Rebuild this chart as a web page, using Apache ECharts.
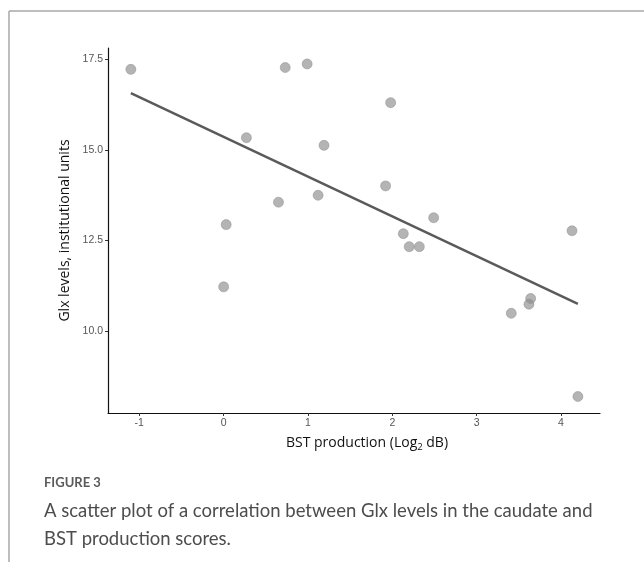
<!DOCTYPE html>
<html>
<head>
<meta charset="utf-8">
<script src="https://cdn.jsdelivr.net/npm/echarts@6/dist/echarts.min.js"></script>
<style>
  html, body { margin: 0; padding: 0; background: #fff; }
  #chart { width: 644px; height: 562px; }
</style>
</head>
<body>
<div id="chart"></div>
<script>
// BST production (log2 dB) against Glx levels
var bstScores = [-1.10, 0.73, 0.99, 0.27, 1.19, 0.65, 1.12, 0.03, 1.98, 1.92,
                 2.49, 2.13, 2.20, 2.32, 4.13, 0.00, 3.64, 3.62, 3.41, 4.20];
var glxLevels = [17.23, 17.28, 17.38, 15.34, 15.13, 13.56, 13.75, 12.94, 16.31, 14.01,
                 13.13, 12.69, 12.33, 12.33, 12.77, 11.22, 10.90, 10.74, 10.49, 8.19];
// fitted line end points
var fitX = [-1.10, 4.20];
var fitY = [16.57, 10.75];
var xTicks = [-1, 0, 1, 2, 3, 4];
var yTicks = [10, 12.5, 15, 17.5];

var points = bstScores.map(function (x, i) { return [x, glxLevels[i]]; });
var fitLine = fitX.map(function (x, i) { return [x, fitY[i]]; });

var chart = echarts.init(document.getElementById('chart'));
var option = {
  backgroundColor: '#fff',
  animation: false,
  grid: { left: 108, right: 44, top: 48, bottom: 149 },
  xAxis: {
    type: 'value',
    min: -1.371,
    max: 4.462,
    name: '{t|BST production (Log}{s|2}{t| dB)}',
    nameLocation: 'middle',
    nameGap: 22,
    nameTextStyle: {
      padding: [0, 0, 0, 26],
      rich: {
        t: { fontFamily: 'Open Sans', fontSize: 14, color: '#111' },
        s: { fontFamily: 'Open Sans', fontSize: 9.5, color: '#111', padding: [7, 0, 0, 0] }
      }
    },
    axisLine: { onZero: false, lineStyle: { color: '#111', width: 1.2 } },
    axisTick: { customValues: xTicks, length: 3, lineStyle: { color: '#333' } },
    axisLabel: {
      customValues: xTicks,
      margin: 5,
      color: '#555',
      fontFamily: 'Liberation Sans',
      fontSize: 10.5
    },
    splitLine: { show: false }
  },
  yAxis: {
    type: 'value',
    min: 7.735,
    max: 17.82,
    name: 'Glx levels, institutional units',
    nameLocation: 'middle',
    nameGap: 32,
    nameTextStyle: { fontFamily: 'Open Sans', fontSize: 14, color: '#111' },
    axisLine: { show: true, onZero: false, lineStyle: { color: '#111', width: 1.2 } },
    axisTick: { show: true, customValues: yTicks, length: 3, lineStyle: { color: '#333' } },
    axisLabel: {
      customValues: yTicks,
      margin: 5,
      color: '#555',
      fontFamily: 'Liberation Sans',
      fontSize: 10.5,
      formatter: function (v) { return v.toFixed(1); }
    },
    splitLine: { show: false }
  },
  series: [
    {
      type: 'line',
      data: fitLine,
      symbol: 'none',
      z: 2,
      lineStyle: { color: '#5a5a5a', width: 2.5 }
    },
    {
      type: 'scatter',
      data: points,
      symbolSize: 10,
      z: 3,
      itemStyle: { color: 'rgba(140,140,140,0.82)', borderColor: '#888', borderWidth: 0.6 }
    }
  ],
  graphic: [
    { type: 'line', shape: { x1: 9, y1: 11, x2: 644, y2: 11 }, style: { stroke: '#a8a8a8', lineWidth: 1.5 } },
    { type: 'line', shape: { x1: 9, y1: 11, x2: 9, y2: 562 }, style: { stroke: '#a8a8a8', lineWidth: 1.5 } },
    { type: 'text', left: 44, top: 476,
      style: { text: 'FIGURE 3', fontFamily: 'Lato', fontWeight: 'bold', fontSize: 13, fill: '#5a5a5a' } },
    { type: 'text', left: 44, top: 497,
      style: { text: 'A scatter plot of a correlation between Glx levels in the caudate and\nBST production scores.',
               fontFamily: 'Lato', fontSize: 18.5, lineHeight: 28, fill: '#4d4d4d' } }
  ]
};
chart.setOption(option);
</script>
</body>
</html>
